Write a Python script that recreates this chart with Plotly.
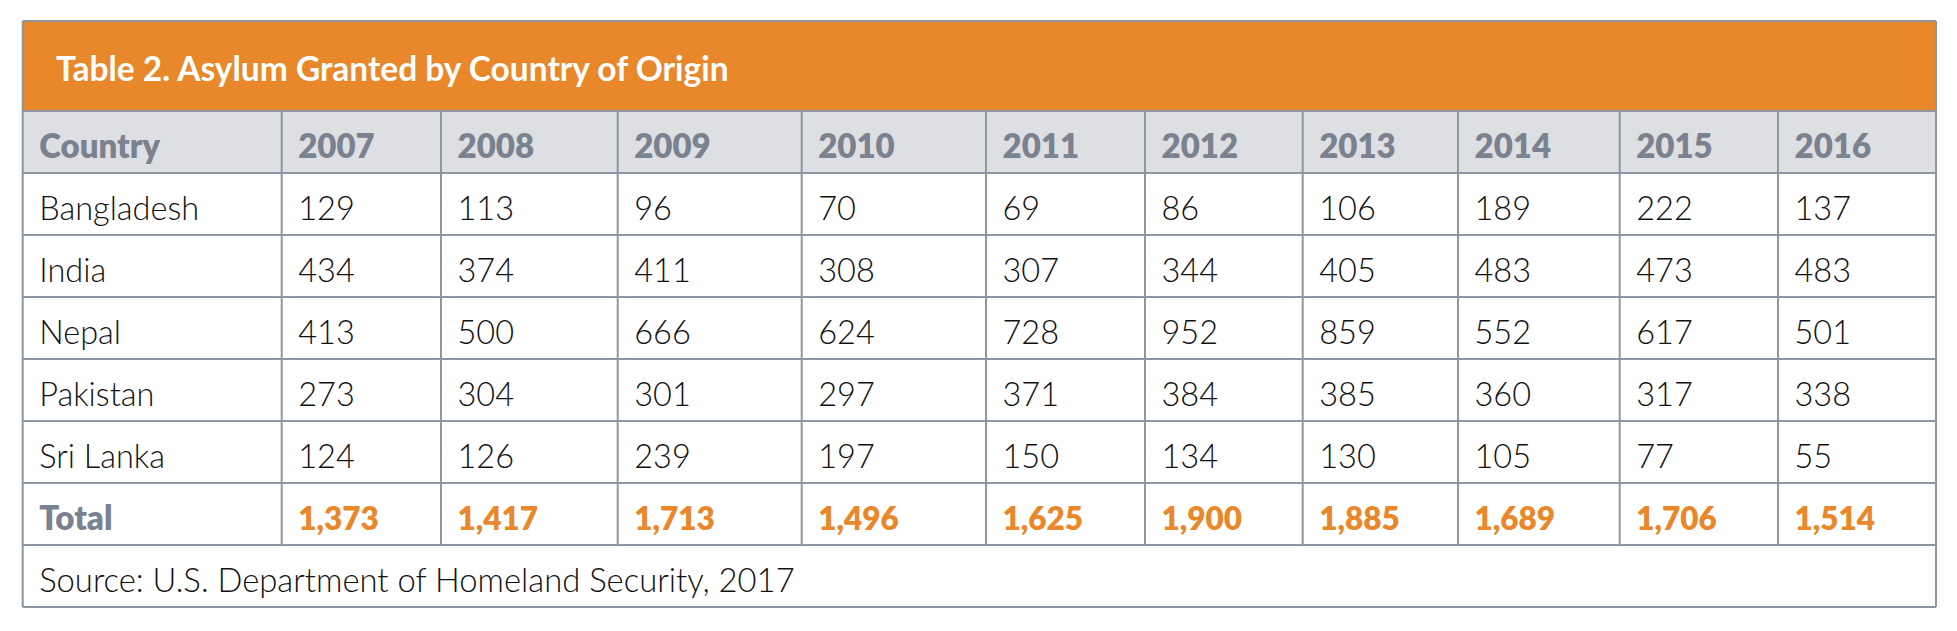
import plotly.graph_objects as go

# ---------------- data ----------------
title = "Table 2. Asylum Granted by Country of Origin"
source = "Source: U.S. Department of Homeland Security, 2017"
header_label = "Country"
years = ["2007", "2008", "2009", "2010", "2011", "2012", "2013", "2014", "2015", "2016"]
countries = ["Bangladesh", "India", "Nepal", "Pakistan", "Sri Lanka"]
bangladesh = [129, 113, 96, 70, 69, 86, 106, 189, 222, 137]
india = [434, 374, 411, 308, 307, 344, 405, 483, 473, 483]
nepal = [413, 500, 666, 624, 728, 952, 859, 552, 617, 501]
pakistan = [273, 304, 301, 297, 371, 384, 385, 360, 317, 338]
sri_lanka = [124, 126, 239, 197, 150, 134, 130, 105, 77, 55]
total_label = "Total"
totals = [1373, 1417, 1713, 1496, 1625, 1900, 1885, 1689, 1706, 1514]
series = [bangladesh, india, nepal, pakistan, sri_lanka]

# ---------------- style / layout ----------------
W, H = 1957, 631
PAGE_MARGIN = 8  # default browser body margin; compensated so page pixels == axis units
ORANGE = "#E8882A"
HEAD_FILL = "#DDDFE3"
HEAD_TEXT = "#7A828F"
LINE = "#8D96A1"
BODY_TEXT = "#111111"
FONT = "Lato"

table_left = 22.7
col_widths = [259, 159.3, 176.7, 184, 184.3, 159, 157.7, 155.3, 161.7, 158.3, 158]
title_top, title_h = 21, 90
row_h = 62
pad_x = 16.5

col_edges = [table_left]
for w_ in col_widths:
    col_edges.append(col_edges[-1] + w_)
table_right = col_edges[-1]
head_top = title_top + title_h
n_body = len(countries) + 1  # countries + total row
row_edges = [head_top + i * row_h for i in range(n_body + 3)]
grid_bottom = row_edges[-2]
source_bottom = row_edges[-1]

fig = go.Figure()
shapes = []
shapes.append(dict(type="rect", xref="x", yref="y", x0=table_left, x1=table_right,
                   y0=title_top, y1=head_top, fillcolor=ORANGE, line=dict(width=0), layer="below"))
shapes.append(dict(type="rect", xref="x", yref="y", x0=table_left, x1=table_right,
                   y0=row_edges[0], y1=row_edges[1], fillcolor=HEAD_FILL, line=dict(width=0), layer="below"))
for y in [title_top] + row_edges:
    shapes.append(dict(type="line", xref="x", yref="y", x0=table_left, x1=table_right,
                       y0=y, y1=y, line=dict(color=LINE, width=2)))
for x in col_edges[1:-1]:
    shapes.append(dict(type="line", xref="x", yref="y", x0=x, x1=x,
                       y0=row_edges[0], y1=grid_bottom, line=dict(color=LINE, width=2)))
for x in [table_left, table_right]:
    shapes.append(dict(type="line", xref="x", yref="y", x0=x, x1=x,
                       y0=title_top, y1=source_bottom, line=dict(color=LINE, width=2)))


def centers(i):
    return (row_edges[i] + row_edges[i + 1]) / 2


text_y_off = 8

fig.add_trace(go.Scatter(x=[56], y=[(title_top + head_top) / 2 + text_y_off - 1], mode="text",
                         text=[title], textposition="middle right",
                         textfont=dict(family=FONT, size=33.5, color="white", weight="bold"),
                         hoverinfo="skip"))
hx = [col_edges[0] + pad_x] + [col_edges[j + 1] + pad_x for j in range(len(years))]
fig.add_trace(go.Scatter(x=hx, y=[centers(0) + text_y_off] * len(hx), mode="text",
                         text=[header_label] + years, textposition="middle right",
                         textfont=dict(family=FONT, size=33, color=HEAD_TEXT, weight=800),
                         hoverinfo="skip"))
bx, by, bt = [], [], []
for i, (name, vals) in enumerate(zip(countries, series)):
    yc = centers(i + 1) + text_y_off
    bx.append(col_edges[0] + pad_x); by.append(yc); bt.append(name)
    for j, v in enumerate(vals):
        bx.append(col_edges[j + 1] + pad_x); by.append(yc); bt.append(f"{v:,}")
fig.add_trace(go.Scatter(x=bx, y=by, mode="text", text=bt, textposition="middle right",
                         textfont=dict(family=FONT, size=32.5, color=BODY_TEXT, weight=300),
                         hoverinfo="skip"))
ty = centers(len(countries) + 1) + text_y_off
fig.add_trace(go.Scatter(x=[col_edges[0] + pad_x], y=[ty], mode="text", text=[total_label],
                         textposition="middle right",
                         textfont=dict(family=FONT, size=33, color=HEAD_TEXT, weight=800),
                         hoverinfo="skip"))
fig.add_trace(go.Scatter(x=[col_edges[j + 1] + pad_x for j in range(len(totals))],
                         y=[ty] * len(totals), mode="text", text=[f"{t:,}" for t in totals],
                         textposition="middle right",
                         textfont=dict(family=FONT, size=31.5, color=ORANGE, weight=800),
                         hoverinfo="skip"))
fig.add_trace(go.Scatter(x=[col_edges[0] + pad_x], y=[(grid_bottom + source_bottom) / 2 + text_y_off],
                         mode="text", text=[source], textposition="middle right",
                         textfont=dict(family=FONT, size=32.8, color=BODY_TEXT, weight=300),
                         hoverinfo="skip"))

m = PAGE_MARGIN
fig.update_layout(
    width=W - 2 * m, height=H - 2 * m, margin=dict(l=0, r=0, t=0, b=0),
    paper_bgcolor="white", plot_bgcolor="white", showlegend=False,
    shapes=shapes,
    xaxis=dict(range=[m, W - m], visible=False, fixedrange=True),
    yaxis=dict(range=[H - m, m], visible=False, fixedrange=True),
)
fig.write_html("out.html", config={"displayModeBar": False})
